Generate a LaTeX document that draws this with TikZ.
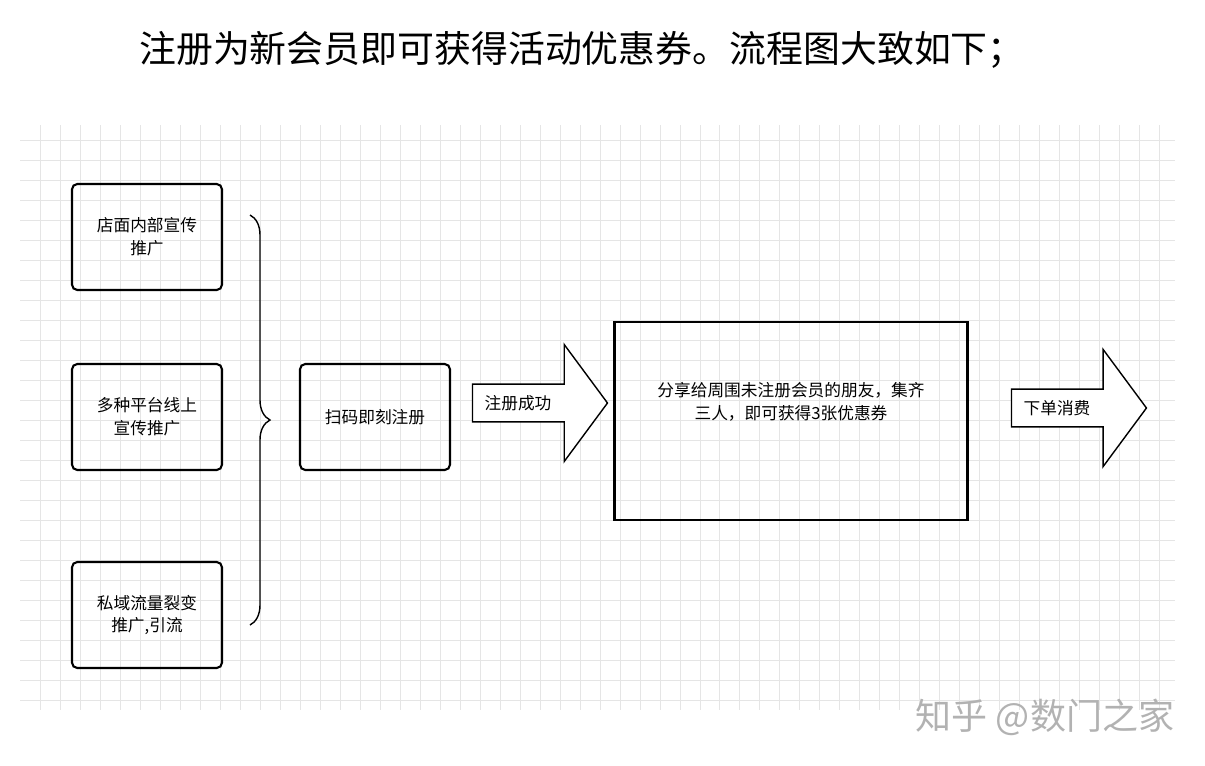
\documentclass[tikz,border=0pt]{standalone}
\usepackage{fontspec}
\setmainfont{Noto Sans CJK SC}
\usetikzlibrary{shapes.arrows, decorations.pathreplacing, positioning}

\begin{document}
\begin{tikzpicture}[
        x=0.02cm, y=-0.02cm,
        srcbox/.style={rectangle, draw, very thick, rounded corners=3pt, minimum width=3cm, minimum height=2.12cm, align=center, font=\fontsize{9.5}{13}\selectfont},
        bigbox/.style={rectangle, draw, very thick, minimum width=7.06cm, minimum height=3.96cm, align=center, font=\fontsize{9.5}{13}\selectfont},
        flowarrow/.style={single arrow, draw, thick, fill=white, single arrow head extend=0.6cm, single arrow tip angle=107, minimum height=2.7cm, minimum width=2.34cm, font=\fontsize{9.5}{13}\selectfont}
    ]
        \useasboundingbox (0,0) rectangle (1205,765);
        % Background grid
        \draw[gray!20, step=0.4cm] (20,125) grid (1175,710);

        % Title
        \node[font=\fontsize{21}{24}\selectfont] (title) at (582,50) {注册为新会员即可获得活动优惠券。流程图大致如下；};

        % Sources
        \node[srcbox] (shop) at (147,237) {店面内部宣传\\推广};
        \node[srcbox] (online) at (147,417) {多种平台线上\\宣传推广};
        \node[srcbox] (private) at (147,615) {私域流量裂变\\推广,引流};

        % Brace
        \coordinate (bracetop) at (250,215);
        \coordinate (bracebot) at (250,625);
        \draw[thick, decoration={brace, amplitude=0.4cm}, decorate] (bracetop) -- (bracebot);

        % Flow
        \node[srcbox, minimum width=3cm] (scan) at (375,417) {扫码即刻注册};
        \node[flowarrow] (success) at (533,403) {注册成功\hspace*{0.6cm}};
        \node[bigbox] (share) at (791,421) {分享给周围未注册会员的朋友，集齐\\三人，即可获得3张优惠券\\[0.35cm]};
        \node[flowarrow] (order) at (1072,408) {下单消费\hspace*{0.6cm}};

        % Watermark
        \node[font=\fontsize{20.5}{24}\selectfont, text=gray!60] (mark) at (1045,717) {知乎 @数门之家};
\end{tikzpicture}
\end{document}
